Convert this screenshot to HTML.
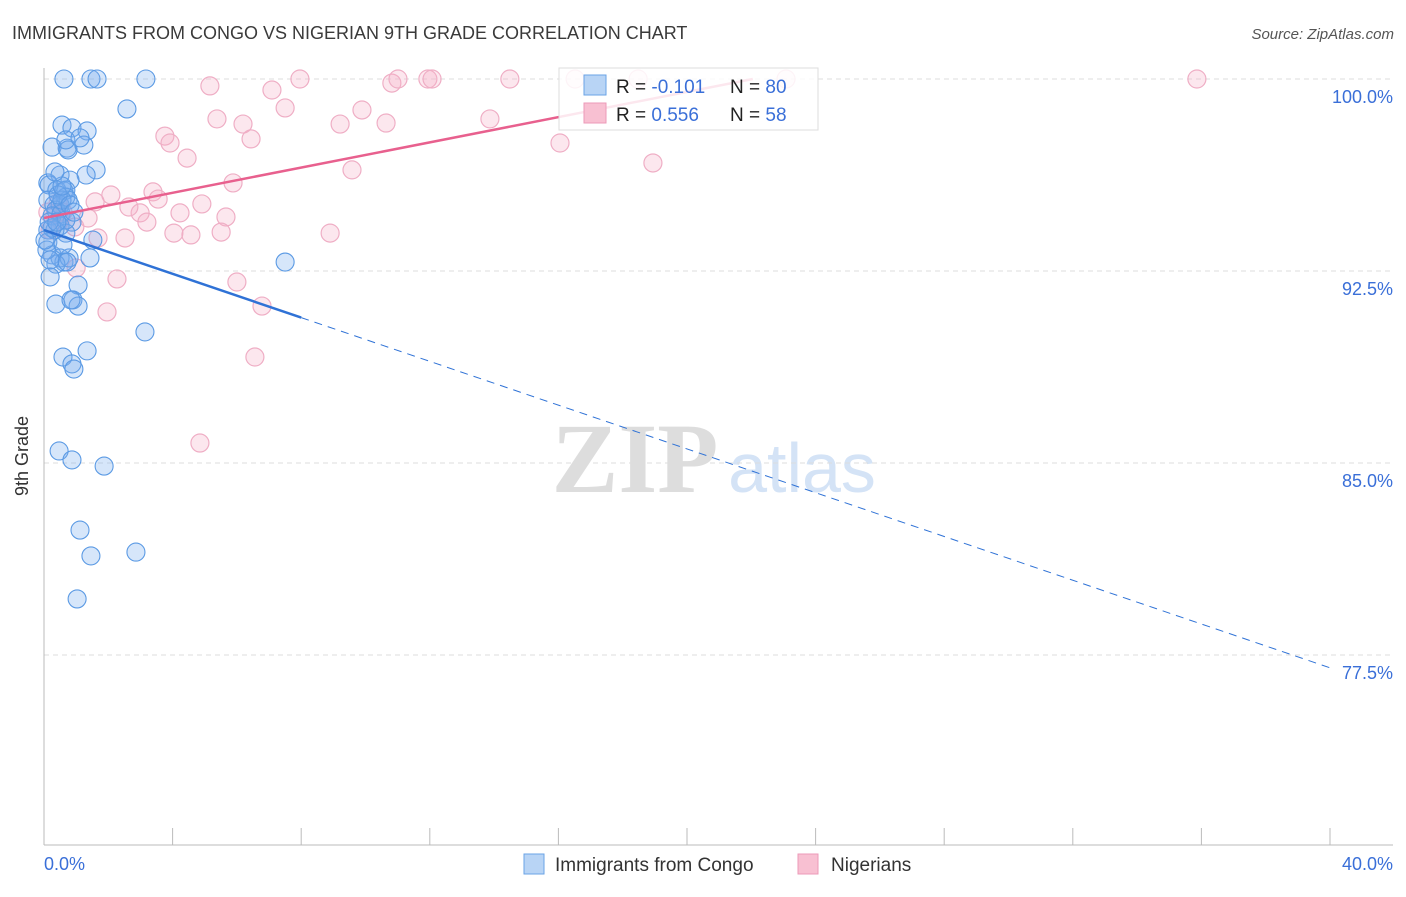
<!DOCTYPE html>
<html><head><meta charset="utf-8"><style>
body{margin:0;background:#fff;font-family:"Liberation Sans",sans-serif}
svg text{font-family:"Liberation Sans",sans-serif}
</style></head><body>
<svg id="c" width="1406" height="892" xmlns="http://www.w3.org/2000/svg">
<text x="12" y="39" font-size="18" fill="#3a3a3a">IMMIGRANTS FROM CONGO VS NIGERIAN 9TH GRADE CORRELATION CHART</text>
<text x="1394" y="39" font-size="15" fill="#555" text-anchor="end" font-style="italic">Source: ZipAtlas.com</text>
<text x="635" y="492" font-size="100" fill="#ddd" text-anchor="middle" font-weight="bold" style="font-family:'Liberation Serif',serif">ZIP</text>
<text x="802" y="492" font-size="70" fill="#d4e3f6" text-anchor="middle">atlas</text>
<g id="grid"></g><g id="axes"></g><g id="pts"></g><g id="lines"></g>
<text x="28" y="456" font-size="18" fill="#333" text-anchor="middle" transform="rotate(-90 28 456)">9th Grade</text>
<g>
<rect x="559" y="68" width="259" height="62" fill="#fff" fill-opacity="0.85" stroke="#ddd"/>
<rect x="584" y="75" width="22" height="20" fill="#b8d4f5" stroke="#6aa3e6"/>
<rect x="584" y="103" width="22" height="20" fill="#f8c0d2" stroke="#ec9ab8"/>
<text x="616" y="93" font-size="19" fill="#222">R = <tspan fill="#3a6fd8">-0.101</tspan></text>
<text x="730" y="93" font-size="19" fill="#222">N = <tspan fill="#3a6fd8">80</tspan></text>
<text x="616" y="121" font-size="19" fill="#222">R = <tspan fill="#3a6fd8"> 0.556</tspan></text>
<text x="730" y="121" font-size="19" fill="#222">N = <tspan fill="#3a6fd8">58</tspan></text>
</g>
<g>
<rect x="524" y="854" width="20" height="20" fill="#b8d4f5" stroke="#6aa3e6"/>
<text x="555" y="871" font-size="19" fill="#333">Immigrants from Congo</text>
<rect x="798" y="854" width="20" height="20" fill="#f8c0d2" stroke="#ec9ab8"/>
<text x="831" y="871" font-size="19" fill="#333">Nigerians</text>
</g>
</svg>
<script>
const yTicks=[100,92.5,85,77.5];
const yTickLabels=["100.0%","92.5%","85.0%","77.5%"];
const xTicks=[0,4,8,12,16,20,24,28,32,36,40];
const xEndLabels=["0.0%","40.0%"];
const congoX=[0.62,1.46,1.65,3.17,2.58,0.56,0.87,1.34,0.25,0.72,0.75,1.24,1.62,1.31,0.50,0.81,0.12,0.16,0.40,0.62,0.68,0.68,0.12,0.31,0.50,0.75,0.37,0.25,0.53,0.87,0.50,0.12,0.68,1.52,0.12,0.25,0.50,0.62,0.78,0.37,1.43,0.19,1.06,0.37,0.90,1.06,7.50,3.14,0.59,0.87,0.93,1.34,0.47,0.87,1.87,1.12,1.46,2.86,1.03,0.56,0.44,0.81,0.09,0.34,0.68,0.19,0.56,0.93,0.25,0.59,0.16,0.40,0.72,0.03,0.84,0.34,0.68,1.12];
const congoY=[100,100,100,100,98.83,98.20,98.09,97.97,97.34,97.30,97.23,97.42,96.45,96.25,96.25,96.05,95.94,95.86,95.66,95.63,95.66,95.39,95.27,95.08,95.08,95.27,94.88,94.65,94.73,94.41,94.26,94.10,93.98,93.71,93.63,93.13,93.01,92.85,93.01,92.77,93.01,92.27,91.95,91.21,91.37,91.13,92.85,90.12,89.14,88.87,88.67,89.38,85.47,85.12,84.88,82.38,81.37,81.52,79.69,95.27,95.47,95.08,93.32,94.10,94.49,92.93,95.82,94.80,94.18,93.52,94.41,94.41,92.85,93.71,91.37,96.37,97.62,97.70];
const nigX=[5.16,7.09,7.96,7.50,5.38,6.19,6.44,3.76,3.92,4.45,5.88,9.21,9.89,10.64,10.82,11.01,11.94,12.07,14.49,16.52,18.48,23.08,35.86,16.05,18.94,9.58,13.87,2.08,3.39,3.55,4.91,2.99,2.64,4.23,5.66,1.59,1.37,3.20,4.04,4.57,5.51,8.90,1.68,2.52,0.34,0.50,0.44,0.96,1.00,2.27,6.00,6.78,1.96,6.56,4.85,0.12,0.59,0.19];
const nigY=[99.73,99.57,100,98.87,98.44,98.24,97.66,97.77,97.50,96.91,95.94,98.24,98.79,98.28,99.84,100,100,100,100,100,100,100,100,97.50,96.72,96.45,98.44,95.47,95.59,95.31,95.12,94.77,95.00,94.77,94.61,95.20,94.57,94.41,93.98,93.91,94.02,93.98,93.79,93.79,94.69,94.49,95.16,94.22,92.62,92.19,92.07,91.13,90.90,89.14,85.78,94.80,94.80,94.10];
const congoTrend=[94.1,-0.4275];
const nigTrend=[94.57,0.2463];
const X=p=>44+p*32.15, Y=v=>79+(100-v)*25.6;
const NS="http://www.w3.org/2000/svg";
function mk(t,a,parent){const e=document.createElementNS(NS,t);for(const k in a)e.setAttribute(k,a[k]);document.getElementById(parent).appendChild(e);return e;}
yTicks.forEach((v,i)=>{
 const g=mk('line',{x1:44,x2:1393,y1:Y(v),y2:Y(v),stroke:'#ddd','stroke-dasharray':'5,4'},'grid');
 
 
 const t=mk('text',{x:1393,y:Y(v)+24,'font-size':18,fill:'#3a6fd8','text-anchor':'end'},'grid');
 t.textContent=yTickLabels[i];
 
 
});
const ax=mk('line',{x1:44,x2:44,y1:68,y2:845,stroke:'#bbb'},'axes');


const bx=mk('line',{x1:44,x2:1393,y1:845,y2:845,stroke:'#bbb'},'axes');


xTicks.forEach(p=>{
 const t=mk('line',{x1:X(p),x2:X(p),y1:828,y2:845,stroke:'#bbb'},'axes');
 
 
});
[[X(0),'start'],[1393,'end']].forEach((o,i)=>{
 const t=mk('text',{x:o[0],y:870,'font-size':18,fill:'#3a6fd8','text-anchor':o[1]},'axes');
 t.textContent=xEndLabels[i];
 
 
});
nigX.forEach((p,i)=>{
 const c=mk('circle',{cx:X(p),cy:Y(nigY[i]),r:9,fill:'rgba(246,175,200,0.3)',stroke:'#efaec5','stroke-width':1.2},'pts');
 
 
});
congoX.forEach((p,i)=>{
 const c=mk('circle',{cx:X(p),cy:Y(congoY[i]),r:9,fill:'rgba(120,172,238,0.3)',stroke:'#5b9ae4','stroke-width':1.1},'pts');
 
 
});
const f=(t,p)=>t[0]+t[1]*p;
let l=mk('line',{x1:X(0),y1:Y(f(congoTrend,0)),x2:X(8),y2:Y(f(congoTrend,8)),stroke:'#2f72d6','stroke-width':2.5},'lines');


l=mk('line',{x1:X(8),y1:Y(f(congoTrend,8)),x2:X(40),y2:Y(f(congoTrend,40)),stroke:'#2f72d6','stroke-width':1,'stroke-dasharray':'8,6'},'lines');


const pend=(100-nigTrend[0])/nigTrend[1];
l=mk('line',{x1:X(0),y1:Y(f(nigTrend,0)),x2:X(pend),y2:Y(100),stroke:'#e8608e','stroke-width':2.5},'lines');


</script>
</body></html>
